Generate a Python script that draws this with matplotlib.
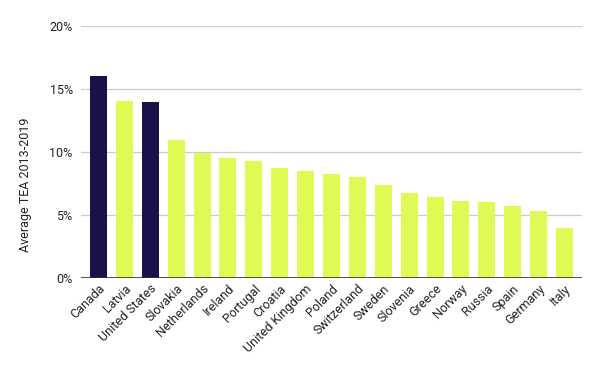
import matplotlib
matplotlib.use('Agg')
import matplotlib.pyplot as plt
from matplotlib.ticker import FuncFormatter

plt.rcParams['font.family'] = ['Roboto', 'DejaVu Sans']

# data
countries = ['Canada', 'Latvia', 'United States', 'Slovakia', 'Netherlands', 'Ireland',
             'Portugal', 'Croatia', 'United Kingdom', 'Poland', 'Switzerland', 'Sweden',
             'Slovenia', 'Greece', 'Norway', 'Russia', 'Spain', 'Germany', 'Italy']
tea = [16.0, 14.05, 13.97, 10.95, 9.92, 9.52, 9.29, 8.73, 8.49, 8.25, 8.02, 7.38,
       6.75, 6.43, 6.11, 6.03, 5.71, 5.32, 3.97]
highlight = ['Canada', 'United States']

navy = '#1b1049'
lime = '#e1f955'
colors = [navy if c in highlight else lime for c in countries]

fig = plt.figure(figsize=(6, 3.71), dpi=100)
ax = fig.add_axes([0.135, 0.2507, 0.835, 0.6793])

x = range(len(countries))
ax.bar(x, tea, width=0.66, color=colors, zorder=3)

ax.set_ylim(0, 20)
ax.set_xlim(-0.676, len(countries) - 1 + 0.676)
ax.set_yticks([0, 5, 10, 15, 20])
ax.yaxis.set_major_formatter(FuncFormatter(lambda v, p: f'{v:.0f}%'))
ax.grid(axis='y', color='#cccccc', linewidth=0.9, zorder=0)
ax.axhline(0, color='#333333', linewidth=1.2, zorder=4)

for s in ['top', 'right', 'left', 'bottom']:
    ax.spines[s].set_visible(False)
ax.tick_params(axis='both', length=0, labelsize=9, colors='#222222')
ax.tick_params(axis='y', pad=6)
ax.tick_params(axis='x', pad=3)

ax.set_xticks(list(x))
ax.set_xticklabels(countries, rotation=45, ha='right', rotation_mode='anchor')
ax.set_ylabel('Average TEA 2013-2019', fontsize=9, color='#222222')
ax.yaxis.set_label_coords(-0.098, 0.369)

fig.savefig('out.png', dpi=100)
